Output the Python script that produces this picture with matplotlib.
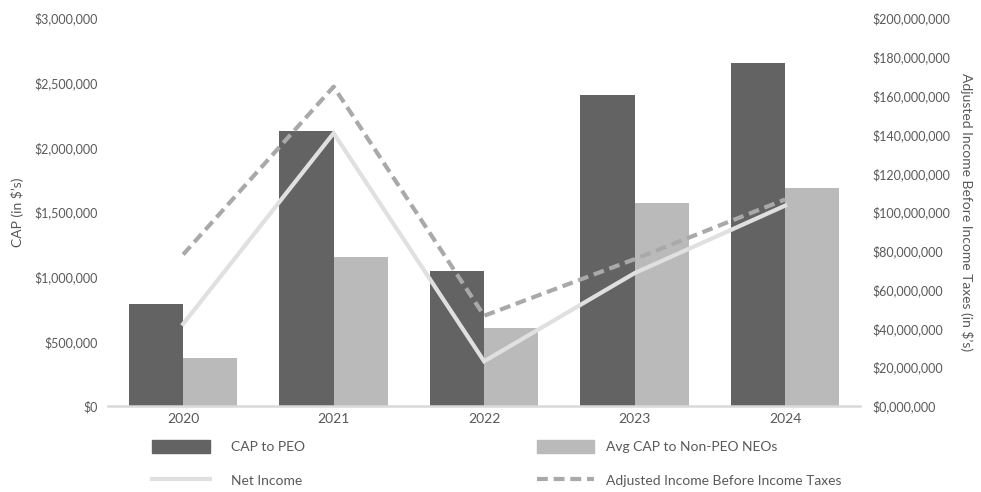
import matplotlib
matplotlib.use('Agg')
import matplotlib.pyplot as plt
import numpy as np
from matplotlib.patches import Patch
from matplotlib.lines import Line2D

years = ['2020', '2021', '2022', '2023', '2024']
cap_peo = [785000, 2129000, 1042000, 2409000, 2652000]
cap_neo = [374000, 1154000, 605000, 1573000, 1689000]
net_income = [42.3e6, 140.7e6, 23.0e6, 68.5e6, 103.3e6]
adj_income = [78.1e6, 164.7e6, 46.5e6, 75.7e6, 106.5e6]

left_ticks = [0, 500000, 1000000, 1500000, 2000000, 2500000, 3000000]
left_labels = ['$0', '$500,000', '$1,000,000', '$1,500,000', '$2,000,000', '$2,500,000', '$3,000,000']
right_ticks = [0, 20e6, 40e6, 60e6, 80e6, 100e6, 120e6, 140e6, 160e6, 180e6, 200e6]
right_labels = ['$0,000,000', '$20,000,000', '$40,000,000', '$60,000,000', '$80,000,000',
                '$100,000,000', '$120,000,000', '$140,000,000', '$160,000,000',
                '$180,000,000', '$200,000,000']

plt.rcParams['font.family'] = ['Lato', 'DejaVu Sans']
txt = '#595959'

fig = plt.figure(figsize=(9.81, 4.92), dpi=100)
ax = fig.add_axes([0.110, 0.175, 0.767, 0.788])
ax2 = ax.twinx()

x = np.arange(len(years))
w = 0.36
ax.bar(x - w / 2, cap_peo, w, color='#636363', zorder=2)
ax.bar(x + w / 2, cap_neo, w, color='#bababa', zorder=2)

ax2.plot(x, net_income, color='#e0e0e0', lw=3.0, solid_joinstyle='miter')
ax2.plot(x, adj_income, color='#a9a9a9', lw=3.0, dashes=(2.6, 1.4))

ax.set_xlim(-0.5, 4.5)
ax.set_ylim(0, 3000000)
ax2.set_ylim(0, 200e6)
ax.set_xticks(x)
ax.set_xticklabels(years)
ax.set_yticks(left_ticks)
ax.set_yticklabels(left_labels)
ax2.set_yticks(right_ticks)
ax2.set_yticklabels(right_labels)

for a in (ax, ax2):
    for s in a.spines.values():
        s.set_visible(False)
    a.tick_params(length=0, colors=txt, labelsize=9)
ax.spines['bottom'].set_visible(True)
ax.spines['bottom'].set_color('#d9d9d9')
ax.spines['bottom'].set_linewidth(1.8)
ax.tick_params(axis='y', pad=7)
ax.tick_params(axis='x', pad=5, labelsize=10)
ax2.tick_params(axis='y', pad=9)

ax.set_ylabel('CAP (in $\u2019s)', color=txt, fontsize=10, labelpad=8)
ax2.set_ylabel('Adjusted Income Before Income Taxes (in $\u2019s)', color=txt,
               fontsize=10, rotation=270, labelpad=16)

col1 = [
    Patch(color='#636363', label='CAP to PEO'),
    Line2D([], [], color='#e0e0e0', lw=3.0, label='Net Income'),
]
col2 = [
    Patch(color='#bababa', label='Avg CAP to Non-PEO NEOs'),
    Line2D([], [], color='#a9a9a9', lw=3.0, dashes=(2.6, 1.4), label='Adjusted Income Before Income Taxes'),
]
for hs, xpos, hl, pad in ((col1, 152 / 981, 4.2, 1.5), (col2, 537 / 981, 4.1, 0.85)):
    leg = fig.legend(handles=hs, loc='upper left', bbox_to_anchor=(xpos, 1 - 440 / 492),
                     frameon=False, handlelength=hl, handleheight=1.1, handletextpad=pad,
                     labelspacing=1.45, fontsize=10, borderaxespad=0, borderpad=0)
    for t in leg.get_texts():
        t.set_color(txt)

fig.savefig('out.png', dpi=100)
